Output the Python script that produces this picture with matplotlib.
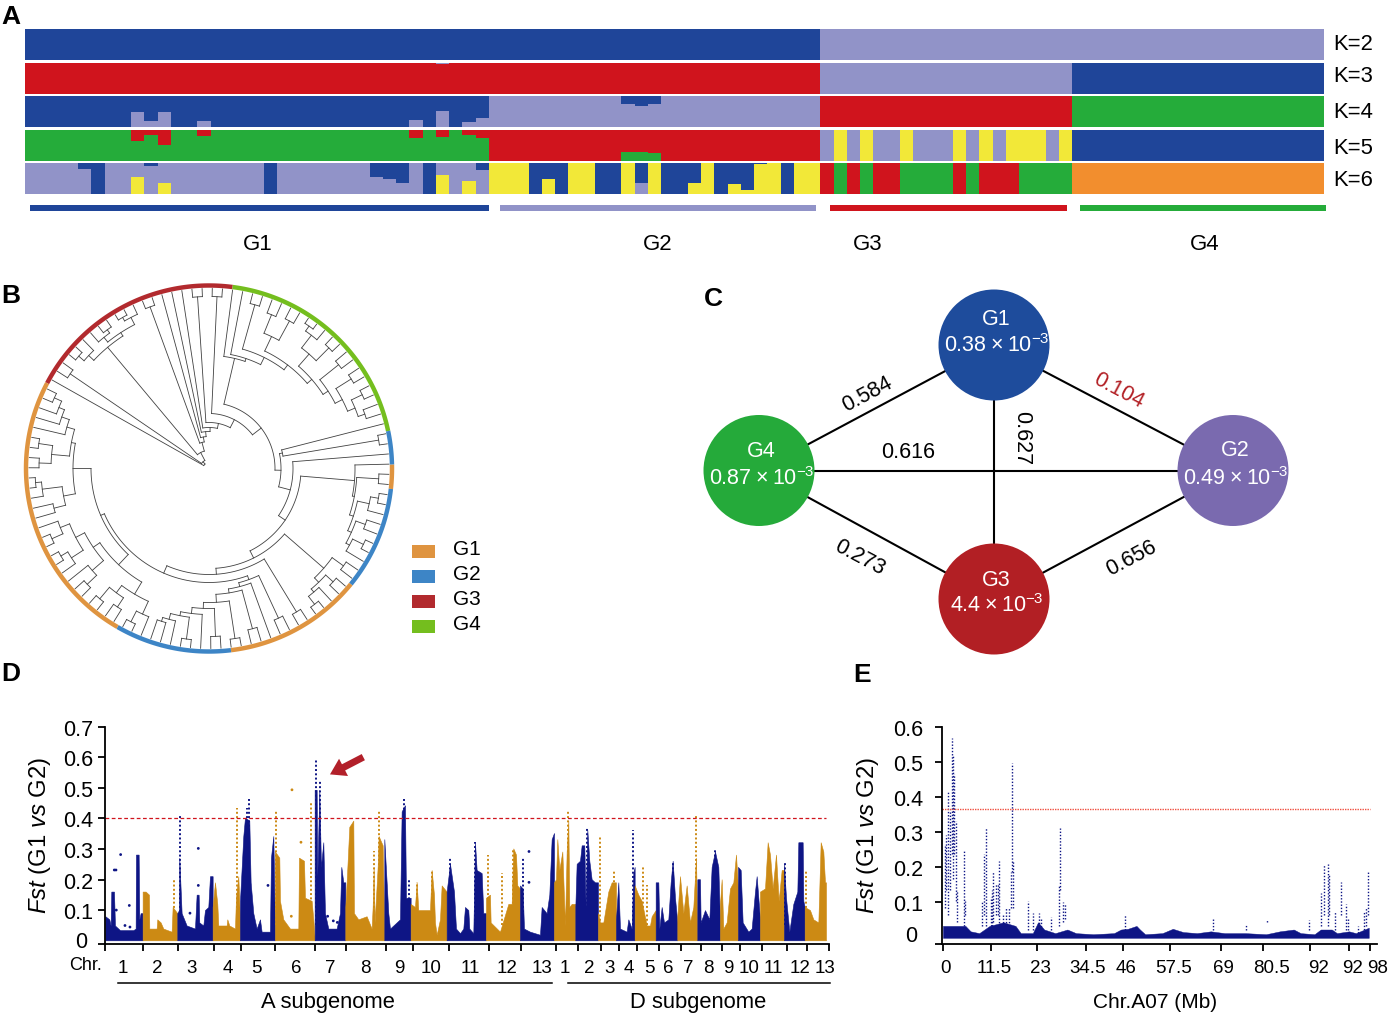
import numpy as np
import matplotlib
matplotlib.use('Agg')
import matplotlib.pyplot as plt
from matplotlib.patches import Circle, Rectangle

plt.rcParams['font.family'] = ['Liberation Sans', 'DejaVu Sans']
plt.rcParams['mathtext.fontset'] = 'custom'
plt.rcParams['mathtext.rm'] = 'Liberation Sans'
plt.rcParams['mathtext.it'] = 'Liberation Sans:italic'
plt.rcParams['mathtext.bf'] = 'Liberation Sans:bold'

BLUE, LAV, RED, GREEN, YEL, ORG = '#1F4599', '#9193C8', '#D0141D', '#25AC3A', '#F2E838', '#F28E2E'
NAVY, GOLD = '#0E1585', '#CC8A14'

# ---- panel A: admixture, 98 samples (G1 35, G2 25, G3 19, G4 19)
group_sizes = [35, 25, 19, 19]
group_names = ['G1', 'G2', 'G3', 'G4']
group_start = [0.35, 35.8, 60.7, 79.6]
group_end = [35.0, 59.7, 78.6, 98.15]
group_cols = [BLUE, LAV, RED, GREEN]

k2_base = [BLUE] * 60 + [LAV] * 38
k3_base = [RED] * 60 + [LAV] * 19 + [BLUE] * 19
k4_base = [BLUE] * 35 + [LAV] * 25 + [RED] * 19 + [GREEN] * 19
k5_g3 = 'LYLYLLYLLLYLYLYYYLY'
k5_base = [GREEN] * 35 + [RED] * 25 + [LAV if c == 'L' else YEL for c in k5_g3] + [BLUE] * 19
k6_g2 = 'YYYBBBYYBBYBYBBBYBBBYYBYY'
k6_base = [LAV] * 35 + [YEL if c == 'Y' else BLUE for c in k6_g2]
k6_g3 = 'RGRGRRGGGGRGRRRGGGG'
k6_base = k6_base + [RED if c == 'R' else GREEN for c in k6_g3] + [ORG] * 19

# overlays: sample -> fraction, from the top (top_) or from the bottom (bot_)
k3_top_lav = {31: 0.04}
k4_bot_lav = {8: 0.50, 9: 0.18, 10: 0.48, 13: 0.19, 29: 0.23, 31: 0.52, 33: 0.16, 34: 0.29}
k4_top_blue = {45: 0.27, 46: 0.31, 47: 0.25}
k5_top_red = {8: 0.36, 9: 0.19, 10: 0.51, 13: 0.22, 29: 0.29, 31: 0.23, 33: 0.17, 34: 0.29}
k5_bot_green = {45: 0.27, 46: 0.28, 47: 0.25}
k6_top_blue = {4: 0.18, 5: 1.0, 9: 0.10, 18: 1.0, 26: 0.46, 27: 0.53, 28: 0.63, 30: 1.0, 34: 0.23, 55: 0.04}
k6_bot_yel = {8: 0.56, 10: 0.37, 31: 0.60, 33: 0.41, 39: 0.47, 50: 0.35, 53: 0.33, 54: 0.14}
k6_bot_lav = {46: 0.37}

k_labels = ['K=2', 'K=3', 'K=4', 'K=5', 'K=6']
k_label_y = [45, 77, 112, 148, 180]
g_label_x = [258, 658, 868, 1205]

# ---- panel B: tree, node = [radius, children...], None = leaf
L = None
red9 = [158, [165, [172, L, L], L], [162, [168, L, [172, L, L]], [170, [174, L, L], L]]]
green = [113, L, [116, L, [124, [170, L, L], [130, [146, [166, L, L], [168, L, L]],
         [136, [152, [168, [174, L, L], L], [170, L, L]],
          [142, [166, L, L], [150, [168, L, L], [158, [170, L, L], [165, L, L]]]]]]]]]
clade_x = [146, L, [148, [170, L, L], [152, [164, [172, L, L], L], [156, [166, L, L], [160, [172, L, L], L]]]]]
clade_y = [152, [166, L, L], [158, [168, L, L], [162, L, [172, L, L]]]]
stair = [118, [165, L, L], [122, L, [126, [166, L, L], [134, [172, L, L], [140, [168, L, L],
         [146, L, [150, [172, L, L], [156, L, [160, L, L]]]]]]]]]
lower_w = [132, [146, [160, L, [172, L, L]], [155, [166, L, L], [170, L, L]]],
           [140, [155, [168, L, L], L], [150, [164, L, [172, L, L]], [160, [172, L, L], L]]]]
upper_u = [136, [148, [160, L, L], [168, L, [174, L, L]]],
           [140, [158, [170, L, L], [172, L, L]], [148, L, [156, L, [162, L, [170, L, L]]]]]]
left = [118, lower_w, upper_u]
# inner ladder, written from the outside in
inner = [106, [168, L, L], [114, stair, left]]
inner = [100, clade_y, inner]
inner = [92, clade_x, inner]
inner = [84, L, inner]
inner = [72, [75, L, [172, L, L]], inner]
inner = [66, green, inner]
inner = [55, [172, L, L], inner]
inner = [46, [172, L, L], inner]
inner = [41, L, inner]
inner = [37, L, inner]
inner = [32, L, inner]
inner = [27, [172, L, L], inner]
inner = [18, red9, inner]
inner = [9, [168, L, L], inner]
tree = [6, L, inner]
ring_edges = [152.2, 82.6, 11.8, 1.2, -6.4, -39.2, -83.1, -120.0, -207.8]
ring_cols = ['#B22A2E', '#74BE1E', '#3D85C6', '#DF9440', '#3D85C6', '#DF9440', '#3D85C6', '#DF9440']
legend_names = ['G1', 'G2', 'G3', 'G4']
legend_cols = ['#DF9440', '#3D85C6', '#B22A2E', '#74BE1E']
legend_y = [552, 577, 602, 627]

# ---- panel C: network
node_names = ['G1', 'G2', 'G3', 'G4']
node_x = [994, 1233, 994, 759]
node_y = [346, 471.5, 600, 471.5]
node_cols = ['#1E4C9C', '#7A6AAF', '#B21F24', '#25AA3A']
node_pi = ['0.38', '0.49', '4.4', '0.87']
name_dy = [-27, -21, -20, -20]
pi_dy = [0, 7, 6, 7]
edge_a = [0, 0, 0, 1, 1, 2]
edge_b = [1, 2, 3, 2, 3, 3]
edge_txt = ['0.104', '0.627', '0.584', '0.656', '0.616', '0.273']
edge_tx = [1119, 1022, 867, 1131, 908, 860]
edge_ty = [391, 438, 394, 558, 453, 558]
edge_rot = [-28, -90, 28, 28, 0, -28]

# ---- panel D: genome wide Fst, one outline per chromosome
chr_ticks = [316, 430, 533, 641, 722, 826, 945, 1038, 1157, 1239, 1347, 1467, 1564, 1668, 1733, 1803,
             1857, 1911, 1977, 2042, 2102, 2166, 2220, 2285, 2361, 2421, 2487]
chr_label_x = [368, 472, 575, 683, 770, 890, 992, 1095, 1198, 1293, 1410, 1522, 1625, 1693, 1768, 1828,
               1887, 1947, 2006, 2066, 2126, 2185, 2248, 2320, 2400, 2475]
chr_labels = [str(i) for i in range(1, 14)] * 2
chr_edges = [316, 428, 532, 638, 720, 825, 944, 1036, 1153, 1232, 1340, 1458, 1560, 1662, 1726, 1794,
             1848, 1904, 1967, 2032, 2092, 2160, 2214, 2280, 2352, 2414, 2478]
chr_bodies = [
    [(316, .09), (328, .08), (332, .06), (334, .17), (342, .17), (345, .06), (360, .045), (400, .045), (407, .05), (408, .29), (416, .29), (418, .08), (422, .10), (428, .10)],
    [(428, .17), (437, .17), (447, .16), (448, .05), (470, .05), (472, .08), (482, .07), (490, .05), (515, .04), (518, .12), (532, .10)],
    [(532, .10), (537, .11), (538, .28), (545, .10), (560, .06), (585, .05), (590, .16), (596, .16), (598, .07), (610, .06), (615, .11), (625, .12), (630, .22), (638, .22)],
    [(638, .12), (645, .20), (652, .13), (655, .06), (680, .06), (682, .08), (688, .06), (705, .05), (708, .15), (715, .22), (720, .08)],
    [(720, .14), (730, .35), (735, .41), (748, .40), (752, .20), (760, .10), (770, .05), (780, .08), (785, .04), (810, .04), (813, .28), (820, .35), (825, .05)],
    [(825, .30), (838, .28), (840, .14), (850, .08), (870, .05), (895, .05), (897, .28), (912, .27), (915, .15), (935, .14), (940, .08), (944, .02)],
    [(944, .50), (950, .50), (952, .22), (958, .50), (963, .25), (970, .33), (975, .10), (985, .05), (1010, .05), (1020, .10), (1024, .25), (1030, .20), (1036, .20)],
    [(1036, .12), (1040, .20), (1048, .38), (1060, .40), (1062, .10), (1075, .08), (1100, .09), (1115, .05), (1118, .12), (1121, .25), (1124, .07), (1133, .25), (1136, .35), (1148, .32), (1153, .05)],
    [(1153, .34), (1160, .20), (1165, .10), (1170, .05), (1190, .07), (1200, .08), (1205, .43), (1215, .45), (1218, .15), (1232, .15)],
    [(1232, .13), (1245, .12), (1250, .20), (1255, .11), (1290, .11), (1295, .24), (1302, .16), (1305, .07), (1310, .03), (1320, .08), (1325, .19), (1340, .17)],
    [(1340, .17), (1350, .26), (1362, .17), (1368, .05), (1380, .035), (1390, .05), (1395, .12), (1405, .11), (1408, .05), (1420, .035), (1425, .33), (1430, .24), (1445, .23), (1450, .10), (1458, .10)],
    [(1458, .15), (1470, .16), (1472, .07), (1500, .04), (1525, .13), (1535, .13), (1540, .31), (1548, .29), (1552, .19), (1560, .18)],
    [(1560, .19), (1568, .18), (1572, .05), (1590, .04), (1620, .03), (1625, .12), (1640, .10), (1648, .16), (1655, .34), (1662, .36)],
    [(1662, .20), (1668, .21), (1672, .34), (1678, .24), (1687, .30), (1695, .06), (1700, .30), (1705, .40), (1708, .12), (1715, .13), (1726, .13)],
    [(1726, .12), (1730, .26), (1740, .27), (1745, .32), (1753, .32), (1757, .12), (1762, .37), (1768, .27), (1775, .21), (1785, .20), (1794, .20)],
    [(1794, .10), (1800, .07), (1810, .07), (1825, .17), (1835, .20), (1848, .20)],
    [(1848, .08), (1855, .20), (1860, .05), (1880, .04), (1885, .08), (1895, .05), (1900, .23), (1904, .25)],
    [(1904, .19), (1915, .16), (1925, .14), (1940, .06), (1950, .06), (1955, .09), (1967, .11)],
    [(1967, .20), (1975, .20), (1978, .05), (1985, .12), (1992, .07), (2005, .08), (2012, .20), (2018, .27), (2025, .15), (2032, .07)],
    [(2032, .09), (2040, .22), (2050, .10), (2060, .19), (2070, .07), (2080, .12), (2088, .28), (2092, .05)],
    [(2092, .21), (2100, .21), (2102, .07), (2115, .11), (2128, .08), (2135, .25), (2145, .30), (2155, .25), (2160, .07)],
    [(2160, .13), (2165, .21), (2170, .05), (2180, .07), (2190, .18), (2200, .20), (2208, .29), (2214, .18)],
    [(2214, .25), (2222, .24), (2228, .07), (2245, .04), (2255, .05), (2265, .17), (2270, .22), (2280, .08)],
    [(2280, .17), (2295, .18), (2303, .33), (2310, .29), (2318, .18), (2328, .29), (2336, .14), (2345, .24), (2352, .24)],
    [(2352, .26), (2358, .15), (2368, .04), (2380, .13), (2392, .17), (2395, .33), (2408, .33), (2410, .14), (2414, .12)],
    [(2414, .12), (2430, .11), (2440, .08), (2455, .07), (2462, .33), (2470, .30), (2475, .20), (2478, .20)],
]
spike_x = [541, 521, 712, 746, 740, 828, 933, 947, 959, 1136, 1211, 1228, 1250, 1295, 1350, 1425, 1465, 1505,
           1540, 1568, 1704, 1762, 1800, 1841, 1900, 1930, 1940, 2018, 2088, 2146, 2355, 2419, 1121]
spike_top = [.42, .21, .44, .47, .44, .43, .46, .60, .53, .43, .475, .21, .20, .24, .28, .33, .29, .23,
             .31, .28, .43, .375, .35, .24, .37, .25, .19, .27, .42, .31, .27, .24, .30]
outlier_x = [362, 348, 343, 388, 349, 375, 390, 595, 595, 570, 876, 903, 874, 983, 1012, 1000, 1587, 1587, 804]
outlier_y = [.29, .24, .24, .125, .11, .06, .055, .31, .19, .10, .50, .33, .09, .09, .07, .075, .30, .20, .19]
d_threshold = 0.4075

# ---- panel E: Chr.A07 Fst
e_tick_pos = [265, 405, 538, 678, 787, 922, 1070, 1190, 1328, 1440, 1502]
e_label_pos = [272, 412, 547, 684, 795, 932, 1077, 1215, 1352, 1450, 1522]
e_labels = ['0', '11.5', '23', '34.5', '46', '57.5', '69', '80.5', '92', '92', '98']
e_base_x = [265, 310, 330, 345, 370, 400, 440, 475, 490, 525, 540, 558, 590, 625, 650, 700, 760, 780, 800, 825, 835,
            850, 900, 930, 960, 1000, 1040, 1080, 1140, 1200, 1240, 1280, 1300, 1340, 1358, 1390, 1405, 1440, 1460, 1497]
e_base_y = [.05, .05, .05, .035, .03, .05, .06, .05, .03, .03, .06, .04, .03, .04, .03, .027, .03, .04, .042, .05, .04,
            .027, .03, .042, .033, .03, .035, .03, .03, .027, .035, .04, .03, .027, .04, .04, .03, .035, .03, .045]
e_spike_x = [270, 275, 280, 285, 290, 294, 298, 302, 306, 326, 329, 379, 385, 390, 403, 408, 411, 418, 424, 428, 438, 448,
             455, 462, 466, 469, 510, 527, 542, 550, 578, 600, 604, 612, 617, 793, 1047, 1142, 1202, 1323, 1358, 1367,
             1378, 1383, 1400, 1417, 1432, 1437, 1467, 1483, 1490, 1496]
e_spike_lo = [.10, .15, .08, .15, .25, .18, .25, .12, .06, .05, .08, .05, .08, .05, .05, .05, .06, .08, .08, .05, .05, .05,
              .05, .10, .20, .10, .04, .04, .04, .04, .04, .05, .15, .06, .07, .04, .04, .04, .06, .04, .05, .08,
              .05, .08, .04, .08, .04, .04, .03, .03, .05, .08]
e_spike_hi = [.27, .30, .42, .37, .57, .52, .47, .34, .15, .26, .12, .12, .25, .32, .13, .15, .20, .165, .165, .23, .08, .10,
              .10, .20, .50, .23, .12, .085, .085, .07, .075, .16, .32, .115, .11, .08, .07, .055, .065, .065, .14, .22,
              .22, .19, .09, .17, .11, .07, .05, .09, .10, .20]
e_threshold = 0.3726


def px_axes(x0, y0, x1, y1):
    # axes from pixel box, y counted from the top of the picture
    return fig.add_axes([x0 / 1400, 1 - y1 / 1020, (x1 - x0) / 1400, (y1 - y0) / 1020])


def to_fst_d(v):
    # the readings were taken from the axis line, the 0 of the scale sits a little above it
    return 1.0087 * np.asarray(v) - 0.0108


def to_fst_e(v):
    return 1.031 * np.asarray(v) - 0.019


def style_manhattan(ax, y_low, y_top, y_step, pad):
    for s in ['top', 'right']:
        ax.spines[s].set_visible(False)
    ax.spines['left'].set_linewidth(1.3)
    ax.spines['bottom'].set_linewidth(1.3)
    ax.set_ylim(y_low, y_top)
    ticks = np.arange(y_step, y_top + 0.001, y_step)
    ax.set_yticks(np.r_[y_low, ticks])
    # the 0 label goes in by hand, it sits off its tick
    ax.set_yticklabels([''] + ['%.1f' % t for t in ticks], fontsize=15.5)
    ax.tick_params(axis='both', which='major', length=5, width=1.3, pad=pad)
    ax.patch.set_alpha(0)


fig = plt.figure(figsize=(14, 10.2), dpi=100)

# overlay for the free text
over = fig.add_axes([0, 0, 1, 1])
over.set_xlim(0, 1400)
over.set_ylim(1020, 0)
over.axis('off')
for name, x, y in [('A', 11, 17), ('B', 11, 296), ('C', 713, 299), ('D', 11, 674), ('E', 862, 675)]:
    over.text(x, y, name, fontsize=19, fontweight='bold', ha='center', va='center')

# A
ax = px_axes(25, 30, 1324, 195)
ax.set_xlim(0, 98)
pitch, row_h = 1.0, 31 / 33.5
ax.set_ylim(4 + row_h, 0)
ax.axis('off')
xs = np.arange(98) + 0.5


def overlay(row, d, col, from_top):
    for i, f in d.items():
        y0 = row if from_top else row + row_h * (1 - f)
        ax.bar(i + 0.5, f * row_h, width=1, bottom=y0, color=col, linewidth=0, antialiased=False)


rows = [k2_base, k3_base, k4_base, k5_base, k6_base]
for r, base in enumerate(rows):
    ax.bar(xs, row_h, width=1, bottom=r * pitch, color=base, linewidth=0, antialiased=False)
overlay(1, k3_top_lav, LAV, True)
overlay(2, k4_bot_lav, LAV, False)
overlay(2, k4_top_blue, BLUE, True)
overlay(3, k5_top_red, RED, True)
overlay(3, k5_bot_green, GREEN, False)
overlay(4, k6_top_blue, BLUE, True)
overlay(4, k6_bot_yel, YEL, False)
overlay(4, k6_bot_lav, LAV, False)
for a, b, c in zip(group_start, group_end, group_cols):
    ax.add_patch(Rectangle((a, 5.25), b - a, 0.17, color=c, linewidth=0, clip_on=False))
for t, y in zip(k_labels, k_label_y):
    over.text(1353, y, t, fontsize=15.8, ha='center', va='center')
for t, x in zip(group_names, g_label_x):
    over.text(x, 244.5, t, fontsize=16, ha='center', va='center')

# B
ax = px_axes(19, 279.5, 399, 659.5)
ax.set_xlim(-190, 190)
ax.set_ylim(-190, 190)
ax.axis('off')


def count_leaves(n):
    return 1 if n is None else sum(count_leaves(c) for c in n[1:])


step = 360.0 / count_leaves(tree)
next_angle = [ring_edges[0] - step / 2]
tip_r = 180.0


def draw_node(n):
    # returns (angle, radius) of the node, clockwise leaf order
    if n is None:
        a = next_angle[0]
        next_angle[0] -= step
        return a, tip_r
    r = n[0]
    kids = [draw_node(c) for c in n[1:]]
    th = np.radians([k[0] for k in kids])
    arc = np.linspace(th.min(), th.max(), 60)
    ax.plot(r * np.cos(arc), r * np.sin(arc), color='#404040', lw=0.6)
    for t, (a, rk) in zip(th, kids):
        ax.plot([r * np.cos(t), rk * np.cos(t)], [r * np.sin(t), rk * np.sin(t)], color='#404040', lw=0.6)
    return np.degrees(th.mean()), r


draw_node(tree)
for a0, a1, c in zip(ring_edges[:-1], ring_edges[1:], ring_cols):
    th = np.radians(np.linspace(a0, a1, 80))
    ax.plot(183 * np.cos(th), 183 * np.sin(th), color=c, lw=3.2, solid_capstyle='butt')
for t, c, y in zip(legend_names, legend_cols, legend_y):
    over.add_patch(Rectangle((412, y - 6.5), 23, 13, color=c, linewidth=0))
    over.text(453, y - 2, t, fontsize=15, va='center')

# C
ax = px_axes(690, 280, 1300, 660)
ax.set_xlim(690, 1300)
ax.set_ylim(660, 280)
ax.axis('off')
for a, b in zip(edge_a, edge_b):
    ax.plot([node_x[a], node_x[b]], [node_y[a], node_y[b]], color='black', lw=1.5, zorder=1)
for x, y, c, n, p, d1, d2 in zip(node_x, node_y, node_cols, node_names, node_pi, name_dy, pi_dy):
    ax.add_patch(Circle((x, y), 55.5, color=c, linewidth=0, zorder=2))
    ax.text(x + 2, y + d1, n, color='white', fontsize=15.5, ha='center', va='center', zorder=3)
    ax.text(x + 3, y + d2, p + '\u2009×\u200910$^{-3}$', color='white', fontsize=15.5, ha='center', va='center', zorder=3, clip_on=False)
for t, x, y, rot in zip(edge_txt, edge_tx, edge_ty, edge_rot):
    ax.text(x, y, t, fontsize=15.5, ha='center', va='center', rotation=rot, rotation_mode='anchor',
            color='#B21F24' if t == '0.104' else 'black')

# D
ax = px_axes(105.3, 727.7, 829, 945)
style_manhattan(ax, -0.0108, 0.7, 0.1, 4)
ax.set_xlim(316, 2487)
chr_cols = [NAVY if i % 2 == 0 else GOLD for i in range(13)] + [GOLD if i % 2 == 0 else NAVY for i in range(13)]
for body, c in zip(chr_bodies, chr_cols):
    bx = [p[0] for p in body]
    by = to_fst_d([p[1] for p in body])
    ax.fill_between(bx, to_fst_d(0.012), by, color=c, linewidth=0.4)


def chrom_col(x):
    return chr_cols[min(np.searchsorted(chr_edges, x, side='right') - 1, 25)]


for x, top in zip(spike_x, spike_top):
    ax.plot([x, x], to_fst_d([0.06, top]), color=chrom_col(x), lw=1.4, linestyle=(0, (1, 1.2)))
ax.scatter(outlier_x, to_fst_d(outlier_y), s=4, marker='o', linewidths=0, color=[chrom_col(x) for x in outlier_x])
ax.plot([316, 2478], to_fst_d([d_threshold, d_threshold]), color='#D0141D', lw=0.9, linestyle=(0, (3, 2)))
ax.set_xticks(chr_ticks)
ax.set_xticklabels([])
ax.set_xticks(chr_label_x, minor=True)
ax.set_xticklabels(chr_labels, minor=True, fontsize=13.5)
ax.tick_params(axis='x', which='minor', length=0, pad=10.5)
ax.annotate('', xy=(990, to_fst_d(.55)), xytext=(1090, to_fst_d(.606)),
            arrowprops=dict(arrowstyle='simple,head_width=1.4,head_length=1.1,tail_width=0.5',
                            color='#B2202A', linewidth=0, shrinkA=0, shrinkB=0))
over.text(86, 966, 'Chr.', fontsize=13, ha='center', va='center')
over.text(87, 942.5, '0', fontsize=15.5, ha='right', va='center')
over.text(40, 835, r'$\mathit{Fst}$ (G1 $\mathit{vs}$ G2)', fontsize=17.2, rotation=90, ha='center', va='center')
over.plot([118, 552], [983.5, 983.5], color='black', lw=1.1)
over.plot([568, 830], [983.5, 983.5], color='black', lw=1.1)
over.text(328, 1003, 'A subgenome', fontsize=15.8, ha='center', va='center')
over.text(698, 1003, 'D subgenome', fontsize=15.8, ha='center', va='center')

# E
ax = px_axes(941.9, 727.7, 1377.4, 945)
style_manhattan(ax, -0.019, 0.6, 0.1, 8.5)
ax.set_xlim(262, 1503)
ax.fill_between(e_base_x, to_fst_e(0.017), to_fst_e(e_base_y), color=NAVY, linewidth=0.3)
for x, lo, hi in zip(e_spike_x, e_spike_lo, e_spike_hi):
    ax.plot([x, x], to_fst_e([lo, hi]), color=NAVY, lw=1.0, linestyle=(0, (1, 1.3)))
ax.plot([262, 1500], to_fst_e([e_threshold, e_threshold]), color='#F05040', lw=1.0, linestyle=(0, (1, 0.8)))
ax.set_xticks(e_tick_pos)
ax.set_xticklabels([])
ax.set_xticks(e_label_pos, minor=True)
ax.set_xticklabels(e_labels, minor=True, fontsize=13.5)
ax.tick_params(axis='x', which='minor', length=0, pad=11)
over.text(917, 937, '0', fontsize=15.5, ha='right', va='center')
over.text(868, 835, r'$\mathit{Fst}$ (G1 $\mathit{vs}$ G2)', fontsize=17.2, rotation=90, ha='center', va='center')
over.text(1155, 1003, 'Chr.A07 (Mb)', fontsize=15, ha='center', va='center')

fig.savefig('out.png', dpi=100)
